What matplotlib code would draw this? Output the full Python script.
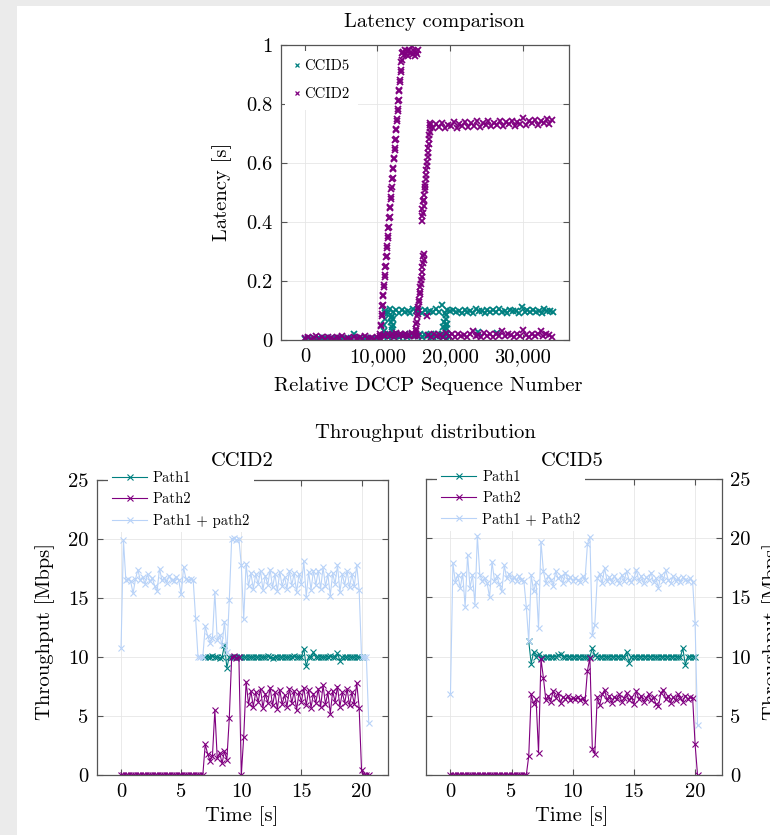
import numpy as np
import matplotlib
matplotlib.use('Agg')
import matplotlib.pyplot as plt
from matplotlib.patches import Rectangle

plt.rcParams['font.family'] = 'cmr10'
plt.rcParams['mathtext.fontset'] = 'cm'
plt.rcParams['axes.formatter.use_mathtext'] = True

TEAL = '#008080'
PURPLE = '#800080'
LIGHT = '#b9d3f8'
SPINE = '#555555'
GRID = '#e6e6e6'
FS = 14.8
LEG = 10.5
nan = np.nan

# ---------------- latency data (sequence number ranges + latencies [s]) ----------------
ccid5_low_rng = (0, 10400)
ccid5_low = [0.004, 0.007, 0.003, 0.006, 0.005, 0.008, 0.004, 0.006, 0.003, 0.007,
             0.005, 0.004, 0.008, 0.006, 0.003, 0.005, 0.007, 0.022, 0.004, 0.006,
             0.005, 0.008, 0.003, 0.006, 0.004, 0.007, 0.005]
ccid5_band_rng = (11000, 34200)
ccid5_band = [0.098, 0.092, 0.104, 0.095, 0.101, 0.090, 0.103, 0.096, 0.099, 0.093,
              0.105, 0.097, 0.100, 0.091, 0.102, 0.095, 0.098, 0.094, 0.104, 0.096,
              0.118, 0.092, 0.101, 0.097, 0.103, 0.094, 0.099, 0.091, 0.102, 0.096,
              0.100, 0.093, 0.105, 0.097, 0.098, 0.092, 0.103, 0.095, 0.101, 0.094,
              0.104, 0.096, 0.099, 0.092, 0.102, 0.097, 0.100, 0.093, 0.112, 0.095,
              0.101, 0.094, 0.103, 0.096, 0.099, 0.092, 0.104, 0.097, 0.100, 0.095]
ccid5_low2_rng = (10800, 19800)
ccid5_low2 = [0.014, 0.019, 0.010, 0.017, 0.012, 0.021, 0.015, 0.009, 0.018, 0.013,
              0.020, 0.011, 0.016, 0.019, 0.012, 0.017, 0.014, 0.021, 0.010, 0.018,
              0.013, 0.016, 0.020, 0.011, 0.015, 0.019, 0.012, 0.017, 0.014, 0.018, 0.013]
ccid5_extra_seq = [10900, 10950, 11000, 11050, 11800, 11900, 12000, 12100, 12200, 11950,
                   12050, 18900, 19000, 19100, 19200, 19300, 19400, 19500, 19500, 19500,
                   19600, 19650, 19550, 23900, 26500]
ccid5_extra_lat = [0.03, 0.05, 0.07, 0.09, 0.075, 0.06, 0.045, 0.07, 0.05, 0.035,
                   0.08, 0.02, 0.045, 0.01, 0.06, 0.03, 0.05, 0.07, 0.085, 0.04,
                   0.02, 0.0, 0.055, 0.028, 0.025]

ccid2_low_rng = (0, 10300)
ccid2_low = [0.006, 0.010, 0.004, 0.008, 0.012, 0.005, 0.009, 0.003, 0.011, 0.007,
             0.004, 0.010, 0.006, 0.013, 0.005, 0.008, 0.003, 0.011, 0.007, 0.009,
             0.004, 0.012, 0.006, 0.008, 0.005, 0.010, 0.007]
ccid2_ramp1_rng = (10350, 13400)
ccid2_ramp1 = [0.012, 0.021, 0.047, 0.052, 0.083, 0.088, 0.114, 0.119, 0.150, 0.153,
               0.180, 0.186, 0.215, 0.219, 0.248, 0.251, 0.281, 0.286, 0.313, 0.318,
               0.347, 0.352, 0.380, 0.384, 0.412, 0.418, 0.446, 0.451, 0.479, 0.484,
               0.512, 0.517, 0.546, 0.550, 0.579, 0.583, 0.612, 0.617, 0.644, 0.650,
               0.678, 0.683, 0.711, 0.716, 0.744, 0.749, 0.777, 0.782, 0.810, 0.815,
               0.843, 0.848, 0.876, 0.881, 0.909, 0.915, 0.942, 0.948, 0.972]
ccid2_top_rng = (13500, 15600)
ccid2_top = [0.975, 0.965, 0.982, 0.970, 0.978, 0.962, 0.984, 0.972, 0.996, 0.968,
             0.980, 0.964, 0.977, 0.971, 0.983]
ccid2_low2_rng = (10800, 15600)
ccid2_low2 = [0.018, 0.012, 0.022, 0.015, 0.020, 0.011, 0.024, 0.016, 0.019, 0.013,
              0.021, 0.017, 0.014, 0.023, 0.016, 0.020, 0.012]
ccid2_ramp2a_rng = (15200, 16400)
ccid2_ramp2a = [0.015, 0.030, 0.038, 0.055, 0.062, 0.080, 0.088, 0.104, 0.112, 0.130,
                0.137, 0.155, 0.162, 0.180, 0.190, 0.205, 0.215, 0.232, 0.248, 0.262,
                0.285, 0.270, 0.290]
ccid2_ramp2b_rng = (16100, 17300)
ccid2_ramp2b = [0.405, 0.420, 0.445, 0.430, 0.470, 0.455, 0.490, 0.475, 0.510, 0.530,
                0.520, 0.545, 0.560, 0.575, 0.590, 0.605, 0.620, 0.635, 0.650, 0.665,
                0.680, 0.695, 0.705, 0.718, 0.728]
ccid2_band_rng = (17300, 34100)
ccid2_band = [0.735, 0.718, 0.732, 0.721, 0.737, 0.719, 0.730, 0.724, 0.738, 0.720,
              0.733, 0.725, 0.739, 0.722, 0.734, 0.727, 0.741, 0.723, 0.736, 0.728,
              0.742, 0.725, 0.737, 0.729, 0.743, 0.726, 0.739, 0.731, 0.744, 0.727,
              0.740, 0.732, 0.752, 0.729, 0.742, 0.734, 0.747, 0.730, 0.743, 0.735,
              0.748, 0.732, 0.745]
ccid2_low3_rng = (17000, 34100)
ccid2_low3 = [0.016, 0.010, 0.021, 0.013, 0.018, 0.009, 0.024, 0.015, 0.019, 0.011,
              0.022, 0.014, 0.017, 0.010, 0.020, 0.032, 0.013, 0.018, 0.011, 0.023,
              0.015, 0.019, 0.010, 0.021, 0.014, 0.030, 0.012, 0.020, 0.016, 0.011,
              0.022, 0.015, 0.034, 0.018, 0.010, 0.021, 0.013, 0.019, 0.032, 0.012,
              0.020, 0.016, 0.011]
ccid2_extra_seq = [16800]
ccid2_extra_lat = [0.08]

# ---------------- throughput data [Mbps], one sample every 0.2 s ----------------
time_s = np.round(np.arange(0, 20.7, 0.2), 1)

ccid2_path1 = ([nan] * 30 +
               [nan, nan, nan, nan, nan, 10.0, 10.0, 10.0, 10.1, 10.0] +
               [10.0, 9.9, 10.0, 11.0, 9.1, 10.0, 10.0, 10.0, 10.0, 10.0] +
               [10.0, 10.0, 10.0, 10.0, 10.0, 10.0, 10.0, 10.0, 10.0, 10.0] +
               [10.0, 10.1, 10.0, 9.9, 10.0, 10.0, 10.0, 10.0, 10.0, 10.0] +
               [10.0, 10.0, 10.1, 10.0, 10.0, 10.0, 10.7, 9.2, 10.0, 10.0] +
               [10.4, 10.0, 10.0, 10.0, 10.0, 10.0, 10.0, 10.1, 10.0, 10.0] +
               [10.3, 9.7, 10.0, 10.0, 10.0, 10.0, 10.0, 10.0, 10.0, 10.0] +
               [10.0, nan, nan, nan])
ccid2_path2 = ([0.0] * 30 +
               [0.0, 0.0, 0.0, 0.0, 0.0, 2.6, 1.8, 1.2, 1.6, 5.5] +
               [1.4, 1.9, 1.0, 2.0, 1.3, 4.8, 10.0, 10.1, 9.9, 10.0] +
               [0.0, 3.2, 7.9, 6.0, 7.1, 5.8, 7.0, 6.2, 7.3, 5.7] +
               [6.9, 6.1, 7.4, 5.9, 7.0, 5.6, 7.2, 6.0, 6.8, 5.8] +
               [7.3, 6.1, 7.1, 5.5, 7.0, 6.2, 7.4, 5.9, 7.2, 5.7] +
               [6.9, 6.1, 7.3, 5.8, 7.6, 6.0, 7.0, 5.2, 7.1, 6.2] +
               [7.5, 5.8, 7.0, 6.1, 7.3, 5.9, 7.0, 6.0, 7.8, 5.7] +
               [0.4, 0.0, 0.0, 0.0])
ccid2_sum = ([10.8, 19.9, 16.5, 16.6, 16.4, 15.4, 16.6, 17.4, 16.5, 16.8] +
             [16.2, 17.0, 16.4, 16.7, 16.0, 15.6, 17.5, 16.5, 16.7, 16.3] +
             [16.9, 16.5, 16.4, 16.8, 16.5, 15.3, 17.6, 16.6, 16.5, 16.6] +
             [16.5, 13.3, 10.0, 10.0, 10.0, 12.6, 11.8, 11.2, 11.6, 15.5] +
             [11.4, 11.9, 11.0, 13.0, 10.4, 14.8, 20.0, 20.1, 19.9, 20.0] +
             [17.8, 13.2, 17.9, 16.0, 17.1, 15.8, 17.0, 16.2, 17.3, 15.7] +
             [16.9, 16.1, 17.4, 15.9, 17.0, 15.6, 17.2, 16.0, 16.8, 15.8] +
             [17.3, 16.1, 17.1, 15.5, 17.0, 16.2, 18.1, 15.1, 17.2, 15.7] +
             [17.3, 16.1, 17.3, 15.8, 17.6, 16.0, 17.0, 15.2, 17.1, 16.2] +
             [17.8, 15.5, 17.0, 16.1, 17.3, 15.9, 17.0, 16.0, 17.8, 15.7] +
             [10.0, 10.0, 10.0, 4.4])

ccid5_path1 = ([nan] * 30 +
               [nan, nan, 11.3, 9.4, 10.4, 10.0, 10.2, 9.9, 10.0, 10.0] +
               [10.0, 10.0, 10.0, 10.0, 10.1, 10.2, 10.0, 10.0, 10.0, 10.0] +
               [10.0, 10.0, 10.0, 10.0, 10.0, 10.0, 10.0, 10.0, 10.7, 10.1] +
               [10.0, 10.0, 10.0, 10.0, 10.0, 10.0, 10.0, 10.0, 10.0, 10.0] +
               [10.0, 10.0, 10.4, 9.5, 10.0, 10.0, 10.0, 10.0, 10.0, 10.0] +
               [10.0, 10.0, 10.0, 10.0, 10.0, 10.0, 10.0, 10.0, 10.0, 10.0] +
               [10.0, 10.0, 10.0, 10.0, 10.0, 10.7, 9.3, 10.0, 10.0, 10.0] +
               [10.0, nan, nan, nan])
ccid5_path2 = ([0.0] * 30 +
               [0.0, 0.0, 1.6, 6.8, 6.0, 6.4, 1.9, 9.8, 8.2, 6.3] +
               [6.7, 6.2, 7.1, 6.5, 6.9, 6.1, 6.6, 6.4, 6.7, 6.3] +
               [6.5, 6.4, 6.6, 6.3, 6.5, 6.2, 8.8, 9.9, 2.2, 1.8] +
               [6.6, 5.9, 6.8, 7.2, 6.3, 6.7, 6.1, 6.6, 6.4, 6.8] +
               [6.2, 6.5, 6.9, 6.3, 6.6, 6.0, 7.1, 6.4, 6.7, 6.2] +
               [6.5, 6.8, 6.3, 6.6, 6.0, 5.8, 6.9, 7.2, 6.4, 6.7] +
               [6.1, 6.6, 6.3, 6.8, 6.5, 6.2, 6.7, 6.4, 6.6, 6.5] +
               [2.6, 0.0, nan, nan])
ccid5_sum = ([6.8, 17.9, 16.3, 16.9, 15.8, 17.0, 14.2, 18.6, 15.8, 16.9] +
             [14.4, 20.2, 16.9, 16.4, 16.6, 16.2, 15.0, 18.0, 16.4, 16.8] +
             [16.1, 15.5, 17.7, 16.6, 17.0, 16.5, 16.7, 16.4, 16.8, 16.5] +
             [16.4, 14.2, 11.3, 16.9, 15.5, 16.3, 12.4, 19.7, 17.2, 16.2] +
             [16.8, 16.5, 16.0, 17.2, 16.6, 16.8, 16.2, 17.1, 16.5, 16.7] +
             [16.4, 16.6, 16.5, 16.3, 16.8, 16.5, 19.5, 20.1, 11.8, 12.7] +
             [16.6, 17.0, 16.2, 17.5, 16.4, 16.7, 16.3, 16.8, 16.5, 16.2] +
             [16.9, 16.4, 17.2, 16.5, 16.3, 16.6, 17.3, 16.4, 16.8, 16.2] +
             [16.7, 16.5, 17.1, 16.3, 16.6, 15.8, 16.9, 16.4, 17.3, 16.5] +
             [16.2, 16.8, 16.4, 16.6, 16.3, 16.7, 16.5, 16.4, 16.6, 16.3] +
             [12.8, 4.2, nan, nan])


def seq(rng, lat):
    return np.linspace(rng[0], rng[1], len(lat))


def style(ax):
    ax.set_axisbelow(True)
    ax.grid(True, color=GRID, lw=0.6)
    for s in ax.spines.values():
        s.set_color(SPINE)
        s.set_linewidth(0.9)
    ax.tick_params(direction='in', length=4, width=0.8, color=SPINE,
                   top=True, right=True, labelsize=FS, pad=6)


fig = plt.figure(figsize=(7.7, 8.35), dpi=100)
fig.patch.set_facecolor('#ebebeb')
fig.patches.append(Rectangle((17 / 770, 0), 753 / 770, 829 / 835,
                             transform=fig.transFigure, facecolor='white',
                             edgecolor='none', zorder=-10))

# ---------------- latency comparison ----------------
ax = fig.add_axes([281 / 770, 1 - 340 / 835, 288 / 770, 295 / 835])
style(ax)
x5 = np.concatenate([seq(ccid5_low_rng, ccid5_low), seq(ccid5_band_rng, ccid5_band),
                     seq(ccid5_low2_rng, ccid5_low2), ccid5_extra_seq])
y5 = np.concatenate([ccid5_low, ccid5_band, ccid5_low2, ccid5_extra_lat])
x2 = np.concatenate([seq(ccid2_low_rng, ccid2_low), seq(ccid2_ramp1_rng, ccid2_ramp1),
                     seq(ccid2_top_rng, ccid2_top), seq(ccid2_low2_rng, ccid2_low2),
                     seq(ccid2_ramp2a_rng, ccid2_ramp2a), seq(ccid2_ramp2b_rng, ccid2_ramp2b),
                     seq(ccid2_band_rng, ccid2_band), seq(ccid2_low3_rng, ccid2_low3),
                     ccid2_extra_seq])
y2 = np.concatenate([ccid2_low, ccid2_ramp1, ccid2_top, ccid2_low2, ccid2_ramp2a,
                     ccid2_ramp2b, ccid2_band, ccid2_low3, ccid2_extra_lat])
ax.plot(x5, y5, ls='none', marker='x', ms=5.0, mew=1.3, color=TEAL, label='CCID5')
ax.plot(x2, y2, ls='none', marker='x', ms=5.0, mew=1.3, color=PURPLE, label='CCID2')
ax.set_xlim(-3300, 36400)
ax.set_ylim(0, 1)
ax.set_xticks([0, 10000, 20000, 30000])
ax.set_xticklabels(['0', '10,000', '20,000', '30,000'])
ax.set_yticks([0, 0.2, 0.4, 0.6, 0.8, 1])
ax.set_yticklabels(['0', '0.2', '0.4', '0.6', '0.8', '1'])
leg = ax.legend(loc='upper left', bbox_to_anchor=(-0.01, 1.005), fontsize=LEG,
                handlelength=0.4, handletextpad=0.3, labelspacing=0.95,
                frameon=True, fancybox=False, framealpha=1, facecolor='white',
                edgecolor='none', borderpad=0.6, markerscale=0.7)
for h in leg.legend_handles:
    h.set_markeredgewidth(0.9)
fig.text(434 / 770, 1 - 22 / 835, 'Latency comparison', ha='center', va='center', fontsize=FS)
fig.text(222 / 770, 1 - 192 / 835, 'Latency [s]', ha='center', va='center',
         rotation=90, fontsize=FS)
fig.text(428 / 770, 1 - 386 / 835, 'Relative DCCP Sequence Number', ha='center',
         va='center', fontsize=FS)

# ---------------- throughput distribution ----------------
fig.text(425 / 770, 1 - 433 / 835, 'Throughput distribution', ha='center', va='center',
         fontsize=FS)
panels = [
    ([97, 480, 291, 295], 'CCID2', ccid2_path1, ccid2_path2, ccid2_sum, 'Path1 + path2', 242),
    ([426, 479, 296, 296], 'CCID5', ccid5_path1, ccid5_path2, ccid5_sum, 'Path1 + Path2', 572),
]
for box, name, p1, p2, tot, totlab, cx in panels:
    l, tp, w, h = box
    ax = fig.add_axes([l / 770, 1 - (tp + h) / 835, w / 770, h / 835])
    style(ax)
    kw = dict(marker='x', ms=3.8, mew=0.8, lw=0.8)
    ax.plot(time_s, p1, color=TEAL, label='Path1', **kw)
    ax.plot(time_s, p2, color=PURPLE, label='Path2', **kw)
    ax.plot(time_s, tot, color=LIGHT, label=totlab, **kw)
    ax.set_xlim(-2.0, 22.2)
    ax.set_ylim(0, 25)
    ax.set_xticks([0, 5, 10, 15, 20])
    ax.set_yticks([0, 5, 10, 15, 20, 25])
    ax.set_xticklabels(['0', '5', '10', '15', '20'])
    ax.set_yticklabels(['0', '5', '10', '15', '20', '25'])
    if name == 'CCID5':
        ax.tick_params(labelleft=False, labelright=True)
    leg = ax.legend(loc='upper left', bbox_to_anchor=(0.022, 1.058), fontsize=LEG,
                    handlelength=2.4, handletextpad=0.4, labelspacing=0.5,
                    frameon=True, fancybox=False, framealpha=1, facecolor='white',
                    edgecolor='none', borderpad=0.3, borderaxespad=0.3)
    leg.set_zorder(5)
    fig.text(cx / 770, 1 - 461 / 835, name, ha='center', va='center', fontsize=FS)
    fig.text(cx / 770, 1 - 816 / 835, 'Time [s]', ha='center', va='center', fontsize=FS)

fig.text(45 / 770, 1 - 632 / 835, 'Throughput [Mbps]', ha='center', va='center',
         rotation=90, fontsize=FS)
fig.text(772 / 770, 1 - 632 / 835, 'Throughput [Mbps]', ha='center', va='center',
         rotation=90, fontsize=FS)

fig.savefig('out.png', dpi=100)
